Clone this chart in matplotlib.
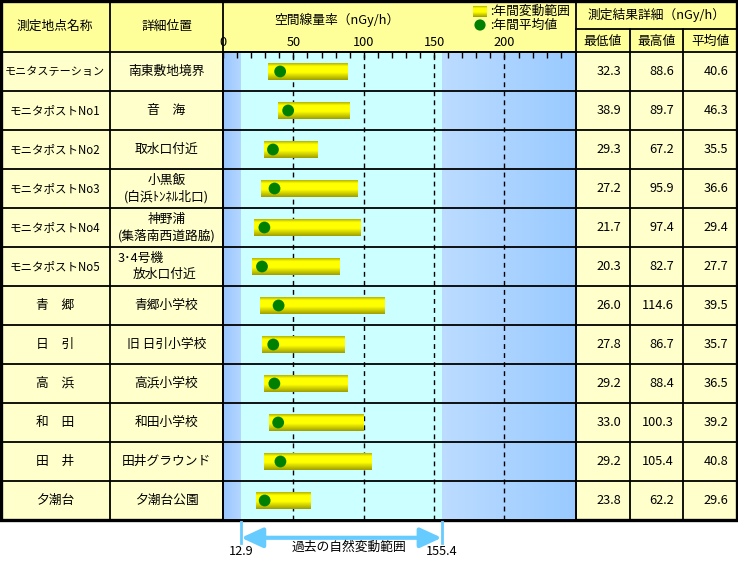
import matplotlib.pyplot as plt
import numpy as np
from matplotlib.colors import LinearSegmentedColormap
from matplotlib.patches import Rectangle

names = ['モニタステーション', 'モニタポストNo1', 'モニタポストNo2', 'モニタポストNo3',
         'モニタポストNo4', 'モニタポストNo5', '青　郷', '日　引', '高　浜',
         '和　田', '田　井', '夕潮台']
places = ['南東敷地境界', '音　海', '取水口付近', '小黒飯\n(白浜ﾄﾝﾈﾙ北口)',
          '神野浦\n(集落南西道路脇)', None, '青郷小学校', '旧 日引小学校',
          '高浜小学校', '和田小学校', '田井グラウンド', '夕潮台公園']
lows = [32.3, 38.9, 29.3, 27.2, 21.7, 20.3, 26.0, 27.8, 29.2, 33.0, 29.2, 23.8]
highs = [88.6, 89.7, 67.2, 95.9, 97.4, 82.7, 114.6, 86.7, 88.4, 100.3, 105.4, 62.2]
means = [40.6, 46.3, 35.5, 36.6, 29.4, 27.7, 39.5, 35.7, 36.5, 39.2, 40.8, 29.6]
nat_low, nat_high = 12.9, 155.4
major = [0, 50, 100, 150, 200]

plt.rcParams['font.family'] = ['Noto Sans CJK JP', 'DejaVu Sans']
fs = 9.2

W, H = 738, 561
fig = plt.figure(figsize=(W / 100, H / 100), dpi=100)

# table background in pixel units
bg = fig.add_axes([0, 0, 1, 1])
bg.set_xlim(0, W)
bg.set_ylim(H, 0)
bg.axis('off')

top_h, row_h = 52, 39
n = len(names)
bot = top_h + n * row_h
c1, c2, c3, c4, c5, c6 = 110, 223, 576, 630, 683, 737

bg.add_patch(Rectangle((0, 0), c6, top_h, fc='#FFFF99', ec='none'))
bg.add_patch(Rectangle((0, top_h), c2, bot - top_h, fc='#FFFFCC', ec='none'))
bg.add_patch(Rectangle((c3, top_h), c6 - c3, bot - top_h, fc='#FFFFCC', ec='none'))

for i in range(n):
    yy = top_h + i * row_h
    bg.plot([0, c6], [yy, yy], color='k', lw=1.3)
for xx in [c1, c2, c3, c4, c5]:
    y0 = 0 if xx in (c1, c2, c3) else 29
    bg.plot([xx, xx], [y0, bot], color='k', lw=1.3)
bg.plot([c3, c6], [29, 29], color='k', lw=1.3)
bg.add_patch(Rectangle((1, 1), c6 - 1, bot - 1, fill=False, ec='k', lw=2.4))

# header texts
bg.text((0 + c1) / 2, 26, '測定地点名称', ha='center', va='center', fontsize=fs)
bg.text((c1 + c2) / 2, 26, '詳細位置', ha='center', va='center', fontsize=fs)
bg.text(337, 20, '空間線量率（nGy/h）', ha='center', va='center', fontsize=fs)
bg.text((c3 + c6) / 2, 15, '測定結果詳細（nGy/h）', ha='center', va='center', fontsize=fs)
for x0, x1, t in [(c3, c4, '最低値'), (c4, c5, '最高値'), (c5, c6, '平均値')]:
    bg.text((x0 + x1) / 2, 41, t, ha='center', va='center', fontsize=fs)

# legend
bar_cmap = LinearSegmentedColormap.from_list(
    'bar', [(0, '#B8B800'), (0.18, '#FFFF00'), (0.55, '#FFFF00'), (1, '#A0A000')])
grad = np.linspace(0, 1, 32)[:, None]
bg.imshow(grad, cmap=bar_cmap, extent=(473, 487, 17, 6), aspect='auto', zorder=3)
bg.scatter([480], [25], s=65, color='#008000', edgecolors='none', zorder=3)
bg.text(490, 11, ':年間変動範囲', ha='left', va='center', fontsize=fs)
bg.text(490, 25, ':年間平均値', ha='left', va='center', fontsize=fs)
bg.set_xlim(0, W)
bg.set_ylim(H, 0)

# row texts
for i in range(n):
    yc = top_h + (i + 0.5) * row_h
    if names[i].startswith('モニタス'):
        nfs = 8.0
    elif names[i].startswith('モニタ'):
        nfs = 8.3
    else:
        nfs = fs
    bg.text(c1 / 2, yc, names[i], ha='center', va='center', fontsize=nfs)
    if places[i] is not None:
        bg.text((c1 + c2) / 2, yc, places[i], ha='center', va='center',
                fontsize=fs, linespacing=1.25)
    bg.text(c4 - 9, yc, f'{lows[i]:.1f}', ha='right', va='center', fontsize=fs)
    bg.text(c5 - 9, yc, f'{highs[i]:.1f}', ha='right', va='center', fontsize=fs)
    bg.text(c6 - 9, yc, f'{means[i]:.1f}', ha='right', va='center', fontsize=fs)
y5 = top_h + 5.5 * row_h
bg.text(118, y5 - 8, '3･4号機', ha='left', va='center', fontsize=fs)
bg.text(165, y5 + 8, '放水口付近', ha='center', va='center', fontsize=fs)

# chart area
ax = fig.add_axes([c2 / W, (H - bot) / H, (c3 - c2) / W, (bot - top_h) / H])
xmax = 250.8
yv = np.arange(n) + 0.5

left_cmap = LinearSegmentedColormap.from_list('l', ['#99C6FF', '#B6D8FF'])
right_cmap = LinearSegmentedColormap.from_list('r', ['#BCDCFF', '#99CAFF'])
hgrad = np.linspace(0, 1, 64)[None, :]
ax.imshow(hgrad, cmap=left_cmap, extent=(0, nat_low, n, 0), aspect='auto', zorder=0)
ax.imshow(hgrad, cmap=right_cmap, extent=(nat_high, xmax, n, 0), aspect='auto', zorder=0)
ax.axvspan(nat_low, nat_high, color='#CCFFFF', zorder=0, lw=0)

for v in major[1:]:
    ax.axvline(v, color='k', ls=(0, (3.5, 3)), lw=1, zorder=1)

bh = 0.21
for lo, hi, yy in zip(lows, highs, yv):
    ax.imshow(grad, cmap=bar_cmap, extent=(lo, hi, yy + bh, yy - bh),
              aspect='auto', zorder=3)
ax.scatter(means, yv, s=72, color='#008000', edgecolors='none', zorder=4)

for i in range(1, n):
    ax.axhline(i, color='k', lw=1.3, zorder=5)

ax.set_xlim(0, xmax)
ax.set_ylim(n, 0)
ax.xaxis.tick_top()
ax.set_xticks(major)
ax.set_xticks(np.arange(10, 250, 10), minor=True)
ax.tick_params(axis='x', which='both', direction='in', length=4, width=1,
               pad=2, labelsize=fs)
ax.set_yticks([])
for s in ax.spines.values():
    s.set_linewidth(1.4)

# natural variation range below the chart
tr = ax.get_xaxis_transform()
for v in (nat_low, nat_high):
    ax.plot([v, v], [0, -0.05], transform=tr, clip_on=False, color='#66CCFF', lw=2)
ax.annotate('', xy=(nat_high, -0.038), xytext=(nat_low, -0.038), xycoords=tr,
            textcoords=tr, annotation_clip=False,
            arrowprops=dict(arrowstyle='<|-|>,head_length=1.3,head_width=0.6',
                            mutation_scale=10, color='#66CCFF', lw=3,
                            shrinkA=0, shrinkB=0))
ax.text(nat_low, -0.067, f'{nat_low}', transform=tr, ha='center', va='center',
        fontsize=fs, clip_on=False)
ax.text(nat_high, -0.067, f'{nat_high}', transform=tr, ha='center', va='center',
        fontsize=fs, clip_on=False)
ax.text(89.5, -0.059, '過去の自然変動範囲', transform=tr, ha='center', va='center',
        fontsize=fs, clip_on=False)

fig.savefig('out.png', dpi=100)
